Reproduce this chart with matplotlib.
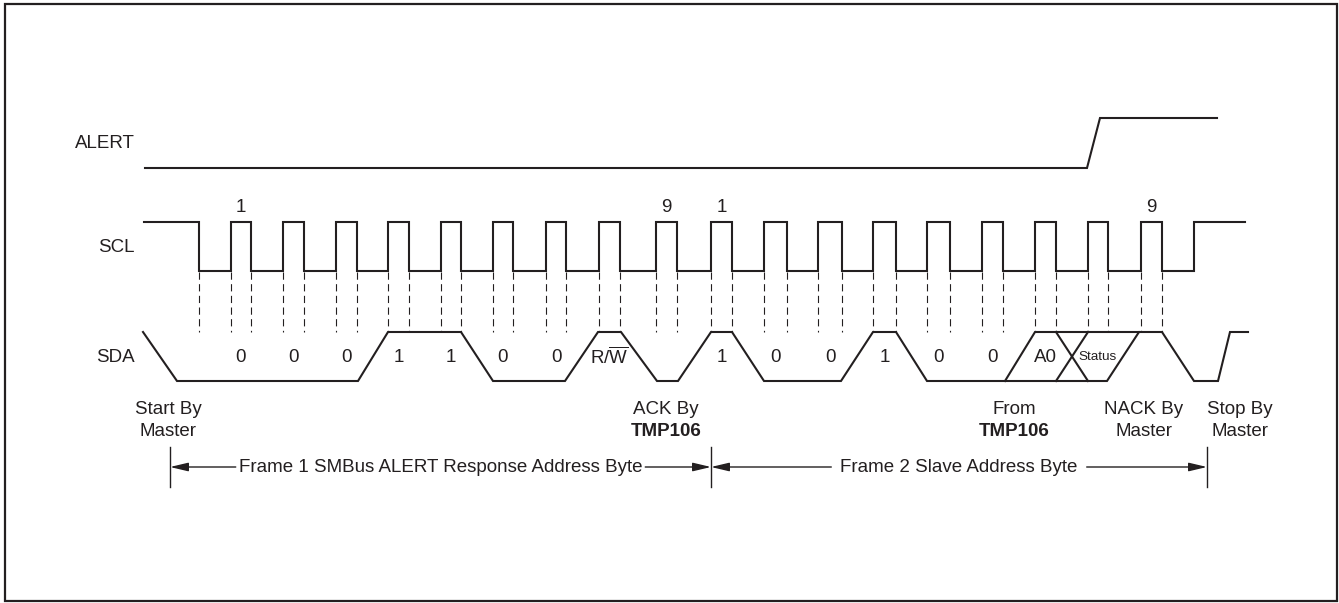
import matplotlib.pyplot as plt
from matplotlib.patches import Rectangle

plt.rcParams['font.family'] = ['Liberation Sans', 'DejaVu Sans']
plt.rcParams['mathtext.fontset'] = 'custom'
plt.rcParams['mathtext.rm'] = 'Liberation Sans'

INK = '#231f20'

# y position of low / high level of each signal lane
alert_lo, alert_hi = 168, 118
scl_lo, scl_hi = 271, 222
sda_lo, sda_hi = 381, 332

# ALERT (time, level)
alert_t = [145, 1087, 1100, 1217]
alert_v = [0, 0, 1, 1]

# SCL: idle high, first falling edge, 18 clock pulses, idle high again
scl_start, scl_first_fall, scl_stop_rise, scl_end = 144, 199, 1194, 1245
scl_rise = [231, 283, 336, 388, 441, 493, 546, 599, 656,
            711, 764, 818, 873, 927, 982, 1035, 1088, 1141]
scl_fall = [251, 304, 357, 409, 461, 513, 566, 620, 677,
            732, 787, 842, 896, 950, 1003, 1056, 1108, 1162]

# SDA main trace (time, level)
sda_t = [143, 177, 358, 388, 461, 493, 565, 598, 621, 657, 678, 711, 732,
         764, 841, 873, 896, 927, 1107, 1139, 1162, 1194, 1218, 1230, 1248]
sda_v = [1, 0, 0, 1, 1, 0, 0, 1, 1, 0, 0, 1, 1,
         0, 0, 1, 1, 0, 0, 1, 1, 0, 0, 1, 1]
# A0 / Status bits (either level)
a0_t, a0_v = [1005, 1035, 1139], [0, 1, 1]
xa_t, xa_v = [1056, 1088], [1, 0]
xb_t, xb_v = [1056, 1088], [0, 1]

# labels per clock pulse
clk_num = {0: '1', 8: '9', 9: '1', 17: '9'}
bits = ['0', '0', '0', '1', '1', '0', '0', r'R/$\mathrm{\overline{W}}$', '',
        '1', '0', '0', '1', '0', '0', 'A0', 'Status', '']

# notes under SDA
note_x = [168, 666, 1014, 1144, 1240]
note_top = ['Start By', 'ACK By', 'From', 'NACK By', 'Stop By']
note_bot = ['Master', 'TMP106', 'TMP106', 'Master', 'Master']
note_bold = [False, True, True, False, False]

# frame brackets
frame_edges = [170, 711, 1207]
frame_names = ['Frame 1 SMBus ALERT Response Address Byte', 'Frame 2 Slave Address Byte']
frame_pad = [3, 9]


def lvl(v, lo, hi):
    return [hi if k else lo for k in v]


fig = plt.figure(figsize=(13.39, 6.03), dpi=100)
ax = fig.add_axes([0, 0, 1, 1])
ax.set_xlim(0, 1339)
ax.set_ylim(603, 0)
ax.axis('off')

ax.add_patch(Rectangle((5, 4), 1332, 597, fill=False, ec=INK, lw=1.6))

kw = dict(c=INK, lw=1.5, solid_joinstyle='miter')
FS = 13.5

# ALERT
ax.plot(alert_t, lvl(alert_v, alert_lo, alert_hi), **kw)

# SCL
xs = [scl_start, scl_first_fall, scl_first_fall]
ys = [scl_hi, scl_hi, scl_lo]
for r, f in zip(scl_rise, scl_fall):
    xs += [r, r, f, f]
    ys += [scl_lo, scl_hi, scl_hi, scl_lo]
xs += [scl_stop_rise, scl_stop_rise, scl_end]
ys += [scl_lo, scl_hi, scl_hi]
ax.plot(xs, ys, **kw)

# dashed guides at every clock edge
for x in [scl_first_fall] + scl_rise + scl_fall:
    ax.plot([x, x], [scl_lo + 1, sda_hi], c=INK, lw=0.8, dashes=(6.5, 4))

# SDA
ax.plot(sda_t, lvl(sda_v, sda_lo, sda_hi), **kw)
for t, v in [(a0_t, a0_v), (xa_t, xa_v), (xb_t, xb_v)]:
    ax.plot(t, lvl(v, sda_lo, sda_hi), **kw)

# signal names
for name, y in [('ALERT', 143), ('SCL', 247), ('SDA', 357)]:
    ax.text(135, y, name, ha='right', va='center', fontsize=FS, color=INK)

# pulse numbers and bit values
for i, (r, f) in enumerate(zip(scl_rise, scl_fall)):
    c = (r + f) / 2
    if i in clk_num:
        ax.text(c, 207, clk_num[i], ha='center', va='center', fontsize=FS, color=INK)
    if bits[i]:
        small = bits[i] == 'Status'
        ax.text(c, 357, bits[i], ha='center', va='center',
                fontsize=9.7 if small else FS, color=INK)

# notes
for x, t, b, bold in zip(note_x, note_top, note_bot, note_bold):
    ax.text(x, 410, t, ha='center', va='center', fontsize=FS, color=INK)
    ax.text(x, 432, b, ha='center', va='center', fontsize=FS, color=INK,
            fontweight='bold' if bold else 'normal')

# frame brackets
for x in frame_edges:
    ax.plot([x, x], [447, 487], c=INK, lw=1.0)

fig.canvas.draw()
inv = ax.transData.inverted()
arrow = dict(arrowstyle='-|>,head_length=0.55,head_width=0.13', color=INK,
             lw=1.0, mutation_scale=20, shrinkA=0, shrinkB=0)
for i, name in enumerate(frame_names):
    a, b = frame_edges[i], frame_edges[i + 1]
    txt = ax.text((a + b) / 2, 467, name, ha='center', va='center',
                  fontsize=FS, color=INK)
    bb = txt.get_window_extent()
    (x0, _), (x1, _) = inv.transform([(bb.x0, bb.y0), (bb.x1, bb.y1)])
    ax.annotate('', xy=(a, 467), xytext=(x0 - frame_pad[i], 467), arrowprops=arrow)
    ax.annotate('', xy=(b, 467), xytext=(x1 + frame_pad[i], 467), arrowprops=arrow)

fig.savefig('out.png', dpi=100)
